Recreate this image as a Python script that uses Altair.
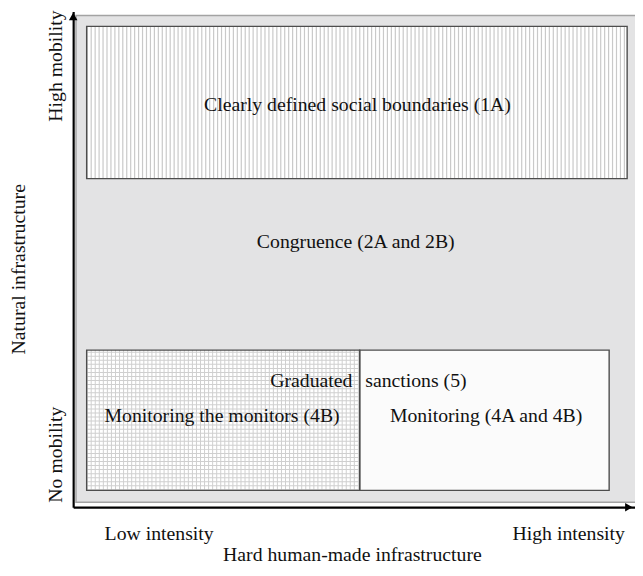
import altair as alt
import pandas as pd

# ---------------- data (diagram coordinates, 0-100 on each axis) ----------------
PLOT_W, PLOT_H = 569, 502

bg_x, bg_x2, bg_y, bg_y2 = 0.5, 101.0, 1.0, 99.2

box_names = ["1A", "4B", "4A"]
box_x = [2.4, 2.4, 51.0]
box_x2 = [98.6, 51.0, 95.4]
box_y = [66.3, 3.4, 3.4]
box_y2 = [97.0, 31.7, 31.7]

inner_texts = ["Clearly defined social boundaries (1A)", "Congruence (2A and 2B)",
               "Graduated", "sanctions (5)",
               "Monitoring the monitors (4B)", "Monitoring (4A and 4B)"]
inner_x = [50.6, 50.3, 42.4, 61.0, 26.5, 73.5]
inner_y = [81.1, 53.4, 25.5, 25.5, 18.3, 18.3]

x_tick_labels = ["Low intensity", "High intensity"]
x_tick_pos = [15.3, 88.2]
y_tick_labels = ["High mobility", "No mobility"]
y_tick_pos = [89.0, 10.6]

x_title = "Hard human-made infrastructure"
y_title = "Natural infrastructure"

FONT = "Liberation Serif"
FS = 20
xs = alt.Scale(domain=[0, 100], nice=False, zero=False)
ys = alt.Scale(domain=[0, 100], nice=False, zero=False)


def px_w(a, b):
    return (b - a) * PLOT_W / 100.0


def px_h(a, b):
    return (b - a) * PLOT_H / 100.0


boxes = pd.DataFrame({"name": box_names, "x": box_x, "x2": box_x2, "y": box_y, "y2": box_y2,
                      "ym": [(a + b) / 2 for a, b in zip(box_y, box_y2)],
                      "xm": [(a + b) / 2 for a, b in zip(box_x, box_x2)]})
bg_df = pd.DataFrame({"x": [bg_x], "x2": [bg_x2], "y": [bg_y], "y2": [bg_y2]})

axis_style = alt.Axis(domain=True, domainColor="black", domainWidth=2.2, ticks=False,
                      labels=False, title=None, grid=False)

background = alt.Chart(bg_df).mark_rect(fill="#e3e3e4", stroke="#a3a3a3", strokeWidth=1.5).encode(
    x=alt.X("x:Q", scale=xs, axis=axis_style),
    x2="x2:Q",
    y=alt.Y("y:Q", scale=ys, axis=axis_style),
    y2="y2:Q",
)


def sel(name):
    return alt.Chart(boxes).transform_filter(alt.datum.name == name)


def box_layer(name, fill, stroke=None):
    kw = dict(fill=fill)
    if stroke:
        kw.update(stroke=stroke, strokeWidth=1.4)
    return sel(name).mark_rect(**kw).encode(
        x=alt.X("x:Q", scale=xs), x2="x2:Q", y=alt.Y("y:Q", scale=ys), y2="y2:Q")


def vstripes(name, idx, color, dash):
    # horizontal thick dashed rule -> vertical hatch lines
    return sel(name).mark_rule(color=color, strokeWidth=px_h(box_y[idx], box_y2[idx]),
                               strokeDash=dash, strokeCap="butt").encode(
        x=alt.X("x:Q", scale=xs), x2="x2:Q", y=alt.Y("ym:Q", scale=ys))


def hstripes(name, idx, color, dash):
    # vertical thick dashed rule -> horizontal hatch lines
    return sel(name).mark_rule(color=color, strokeWidth=px_w(box_x[idx], box_x2[idx]),
                               strokeDash=dash, strokeCap="butt").encode(
        y=alt.Y("y:Q", scale=ys), y2="y2:Q", x=alt.X("xm:Q", scale=xs))


layers = [
    background,
    box_layer("1A", "white"),
    vstripes("1A", 0, "#c9c9c9", [1.2, 2.8]),
    box_layer("4B", "white"),
    vstripes("4B", 1, "#cfcfcf", [1.0, 3.1]),
    hstripes("4B", 1, "#cfcfcf", [1.0, 3.1]),
    box_layer("4A", "#fbfbfb"),
]
for nm in box_names:
    layers.append(box_layer(nm, "transparent", stroke="#4d4d4d"))

txt = dict(font=FONT, fontSize=FS, color="#111111", baseline="middle", align="center")

inner = alt.Chart(pd.DataFrame({"t": inner_texts, "x": inner_x, "y": inner_y})).mark_text(**txt).encode(
    x=alt.X("x:Q", scale=xs), y=alt.Y("y:Q", scale=ys), text="t:N")

xt = alt.Chart(pd.DataFrame({"t": x_tick_labels, "x": x_tick_pos, "y": [-5.4] * 2})).mark_text(**txt).encode(
    x=alt.X("x:Q", scale=xs), y=alt.Y("y:Q", scale=ys), text="t:N")

yt = alt.Chart(pd.DataFrame({"t": y_tick_labels, "x": [-3.0] * 2, "y": y_tick_pos})).mark_text(
    angle=270, **txt).encode(
    x=alt.X("x:Q", scale=xs), y=alt.Y("y:Q", scale=ys), text="t:N")

titles = alt.Chart(pd.DataFrame({"t": [x_title, y_title], "x": [49.7, -9.6], "y": [-9.6, 48.0],
                                 "a": [0, 270]})).mark_text(**txt).encode(
    x=alt.X("x:Q", scale=xs), y=alt.Y("y:Q", scale=ys), text="t:N", angle=alt.Angle("a:Q", scale=None))

arrows = alt.Chart(pd.DataFrame({"d": ["up", "right"], "x": [0.0, 98.9], "y": [99.0, 0.0]})).mark_point(
    filled=True, color="black", opacity=1, size=75).encode(
    x=alt.X("x:Q", scale=xs), y=alt.Y("y:Q", scale=ys),
    shape=alt.Shape("d:N", scale=alt.Scale(domain=["up", "right"], range=["triangle-up", "triangle-right"]),
                    legend=None))

layers += [inner, xt, yt, titles, arrows]

chart = alt.layer(*layers).properties(
    width=PLOT_W, height=PLOT_H,
    autosize="none",
    padding={"left": 66, "top": 0, "right": 0, "bottom": 58},
    background="white",
).configure_view(stroke=None)

chart.save("out.html", embed_options={"renderer": "svg", "actions": False})
